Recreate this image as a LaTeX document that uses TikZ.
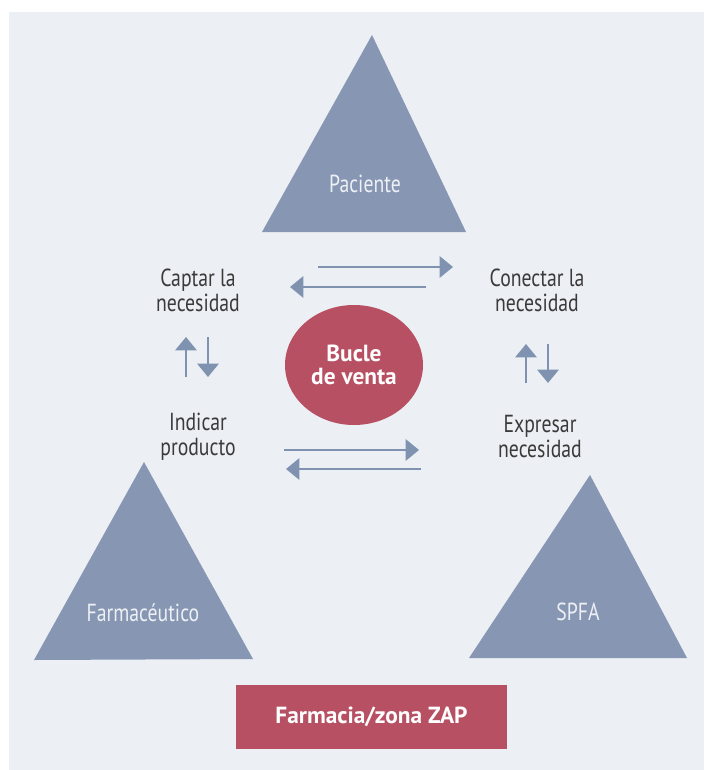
\documentclass[tikz,border=0pt]{standalone}
\usepackage{fontspec}
\setmainfont{PT Sans}
\newfontfamily\estrecha[FakeStretch=0.8]{PT Sans}
\usepackage{xcolor}
\usetikzlibrary{arrows.meta, shapes}

\definecolor{fondo}{HTML}{ECEFF4}
\definecolor{triazul}{HTML}{8797B3}
\definecolor{flecha}{HTML}{7F92B0}
\definecolor{rojo}{HTML}{B75063}
\definecolor{gristexto}{HTML}{3A3A3A}
\definecolor{tritexto}{HTML}{EDF0F5}

\begin{document}
\begin{tikzpicture}[x=0.75pt,y=-0.75pt]
\useasboundingbox (0,0) rectangle (704,770);
\fill[fondo] (9,12) rectangle (704,770);

% triangulos
\fill[triazul] (372,35) -- (466,232) -- (262,232) -- cycle;
\fill[triazul] (144,462) -- (253,659) -- (34,660) -- cycle;
\fill[triazul] (590,475) -- (687,658) -- (469,658) -- cycle;

\begin{scope}[every node/.style={text=tritexto,font=\estrecha\fontsize{18.5}{19}\selectfont}]
  \node (pac) at (365,184) {Paciente};
  \node (far) at (143,613) {Farmacéutico};
  \node (spfa) at (578,612) {SPFA};
\end{scope}

\begin{scope}[every node/.style={text=gristexto,align=center,font=\estrecha\fontsize{18.5}{18.75}\selectfont}]
  \node (captar) at (198,290) {Captar la\\necesidad};
  \node (conectar) at (537,290) {Conectar la\\necesidad};
  \node (indicar) at (198,437) {Indicar\\producto};
  \node (expresar) at (540,437) {Expresar\\necesidad};
\end{scope}

\node[ellipse,fill=rojo,minimum width=103.5pt,minimum height=90pt,
      text=white,align=center,font=\bfseries\fontsize{17.5}{17.25}\selectfont]
      (bucle) at (354,365) {Bucle\\de venta};
\node[fill=rojo,minimum width=203pt,minimum height=48pt,
      text=white,font=\bfseries\fontsize{17.5}{18}\selectfont]
      (zona) at (371.5,717) {Farmacia/zona ZAP};

% extremos de las flechas
\coordinate (ca1) at (318,267); \coordinate (ca2) at (453,267);
\coordinate (co1) at (426,287); \coordinate (co2) at (290,287);
\coordinate (in1) at (284,450); \coordinate (in2) at (419,450);
\coordinate (ex1) at (421,469); \coordinate (ex2) at (286,469);
\coordinate (iz1) at (186,377); \coordinate (iz2) at (186,337);
\coordinate (iz3) at (208,337); \coordinate (iz4) at (208,377);
\coordinate (de1) at (526,383); \coordinate (de2) at (526,344);
\coordinate (de3) at (548,344); \coordinate (de4) at (548,383);

\begin{scope}[>={Triangle[length=10pt,width=16pt]},
              every edge/.style={draw=flecha,line width=1.5pt}]
    \path[->] (ca1) edge (ca2);
    \path[->] (co1) edge (co2);
    \path[->] (in1) edge (in2);
    \path[->] (ex1) edge (ex2);
    \path[->] (iz1) edge (iz2);
    \path[->] (iz3) edge (iz4);
    \path[->] (de1) edge (de2);
    \path[->] (de3) edge (de4);
\end{scope}

\end{tikzpicture}
\end{document}
